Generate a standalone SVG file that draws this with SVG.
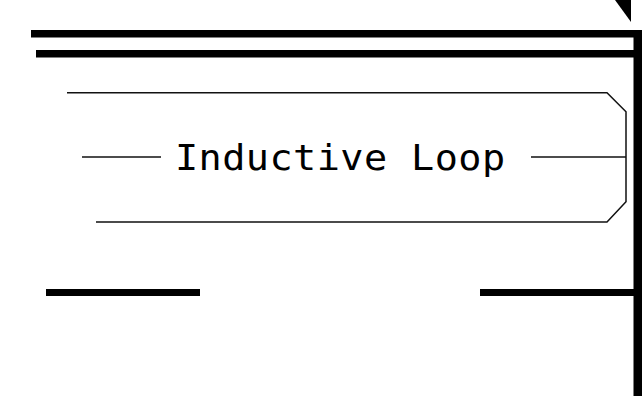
<svg xmlns="http://www.w3.org/2000/svg" width="642" height="396" viewBox="0 0 642 396">
<style>
.bar{fill:#000}
.thin{fill:none;stroke:#111;stroke-width:1.5}
.lbl{font-family:"DejaVu Sans Mono","Liberation Mono",monospace;font-size:35px;fill:#000;letter-spacing:0.4px}
</style>
<rect width="642" height="396" fill="#fff"/>
<g id="connectors">
<rect class="bar" x="31" y="30" width="611" height="7.5"/>
<rect class="bar" x="36" y="50" width="600" height="7.5"/>
<rect class="bar" x="633.5" y="30" width="8.5" height="366"/>
<rect class="bar" x="46" y="289" width="154" height="7"/>
<rect class="bar" x="480" y="289" width="156" height="7"/>
<polygon class="bar" points="615,0 631,0 631,22"/>
</g>
<g id="node-inductive-loop">
<path class="thin" d="M67,92.7 H607 L626,111.7 V201.7 L607,222 H96"/>
<line class="thin" x1="82" y1="157" x2="161" y2="157"/>
<line class="thin" x1="531" y1="157" x2="626" y2="157"/>
<text class="lbl" transform="translate(175,170) scale(1.1,1)" x="0" y="0">Inductive Loop</text>
</g>
</svg>
